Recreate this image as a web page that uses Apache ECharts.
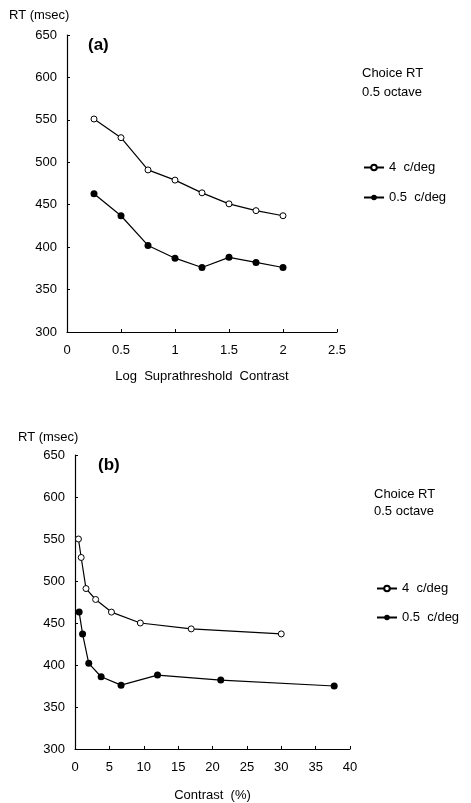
<!DOCTYPE html>
<html>
<head>
<meta charset="utf-8">
<script src="https://cdn.jsdelivr.net/npm/echarts@6/dist/echarts.min.js"></script>
<style>
html,body{margin:0;padding:0;background:#fff;}
#chart{width:471px;height:803px;}
</style>
</head>
<body>
<div id="chart"></div>
<script>
// Panel (a): log suprathreshold contrast
const logContrast = [0.25, 0.5, 0.75, 1, 1.25, 1.5, 1.75, 2];
const rt4a = [551, 529, 491, 479, 464, 451, 443, 437];
const rt05a = [463, 437, 402, 387, 376, 388, 382, 376];
// Panel (b): contrast (%)
const contrast4 = [0.5, 0.9, 1.6, 3, 5.3, 9.5, 16.9, 30];
const contrast05 = [0.6, 1.1, 2, 3.8, 6.7, 12, 21.2, 37.7];
const rt4b = [550, 528, 491, 478, 463, 450, 443, 437];
const rt05b = [463, 437, 402, 386, 376, 388, 382, 375];
const seriesNames = ['4  c/deg', '0.5  c/deg'];

const FONT = 'Liberation Sans, Arial, sans-serif';
const chart = echarts.init(document.getElementById('chart'));

function pairs(xs, ys) { return xs.map((x, i) => [x, ys[i]]); }

function yAxis(gridIndex) {
  return {
    gridIndex, type: 'value', min: 300, max: 650, interval: 50,
    axisLine: {show: true, lineStyle: {color: '#000', width: 1.2}},
    axisTick: {show: true, inside: true, length: 3, lineStyle: {color: '#000'}},
    axisLabel: {color: '#000', fontSize: 13, fontFamily: FONT, margin: 10},
    splitLine: {show: false}
  };
}
function xAxis(gridIndex, max, interval, name, gap) {
  return {
    gridIndex, type: 'value', min: 0, max, interval,
    name, nameLocation: 'middle', nameGap: gap,
    nameTextStyle: {color: '#000', fontSize: 13, fontFamily: FONT},
    axisLine: {show: true, lineStyle: {color: '#000', width: 1.2}},
    axisTick: {show: true, inside: true, length: 3, lineStyle: {color: '#000'}},
    axisLabel: {color: '#000', fontSize: 13, fontFamily: FONT, margin: 12},
    splitLine: {show: false}
  };
}
function openSeries(name, xi, data) {
  return {
    name, type: 'line', xAxisIndex: xi, yAxisIndex: xi, data,
    symbol: 'circle', symbolSize: 6,
    itemStyle: {color: '#fff', borderColor: '#000', borderWidth: 1},
    lineStyle: {color: '#000', width: 1.2}, animation: false
  };
}
function filledSeries(name, xi, data) {
  return {
    name, type: 'line', xAxisIndex: xi, yAxisIndex: xi, data,
    symbol: 'circle', symbolSize: 7,
    itemStyle: {color: '#000', borderColor: '#000', borderWidth: 0},
    lineStyle: {color: '#000', width: 1.2}, animation: false
  };
}
const txt = {color: '#000', fontSize: 13, fontWeight: 'normal', fontFamily: FONT};

chart.setOption({
  animation: false,
  backgroundColor: '#fff',
  title: [
    {text: 'RT (msec)', left: 4, top: 4, textStyle: txt},
    {text: '(a)', left: 83, top: 32, textStyle: {color: '#000', fontSize: 17, fontWeight: 'bold', fontFamily: FONT}},
    {text: 'Choice RT\n0.5 octave', left: 357, top: 59, textStyle: Object.assign({lineHeight: 19}, txt)},
    {text: 'RT (msec)', left: 13, top: 426, textStyle: txt},
    {text: '(b)', left: 93, top: 452, textStyle: {color: '#000', fontSize: 17, fontWeight: 'bold', fontFamily: FONT}},
    {text: 'Choice RT\n0.5 octave', left: 369, top: 481, textStyle: Object.assign({lineHeight: 17}, txt)}
  ],
  legend: [
    {orient: 'vertical', left: 358, top: 156, itemWidth: 20, itemHeight: 7, itemGap: 17,
     data: seriesNames, textStyle: txt, selectedMode: false},
    {orient: 'vertical', left: 371, top: 577, itemWidth: 20, itemHeight: 7, itemGap: 16,
     data: seriesNames, textStyle: txt, selectedMode: false}
  ],
  grid: [
    {left: 67, right: 134, top: 35, bottom: 471},
    {left: 75, right: 121, top: 455, bottom: 51}
  ],
  xAxis: [
    xAxis(0, 2.5, 0.5, 'Log  Suprathreshold  Contrast', 38),
    xAxis(1, 40, 5, 'Contrast  (%)', 40)
  ],
  yAxis: [yAxis(0), yAxis(1)],
  series: [
    openSeries(seriesNames[0], 0, pairs(logContrast, rt4a)),
    filledSeries(seriesNames[1], 0, pairs(logContrast, rt05a)),
    openSeries(seriesNames[0], 1, pairs(contrast4, rt4b)),
    filledSeries(seriesNames[1], 1, pairs(contrast05, rt05b))
  ]
});
</script>
</body>
</html>
